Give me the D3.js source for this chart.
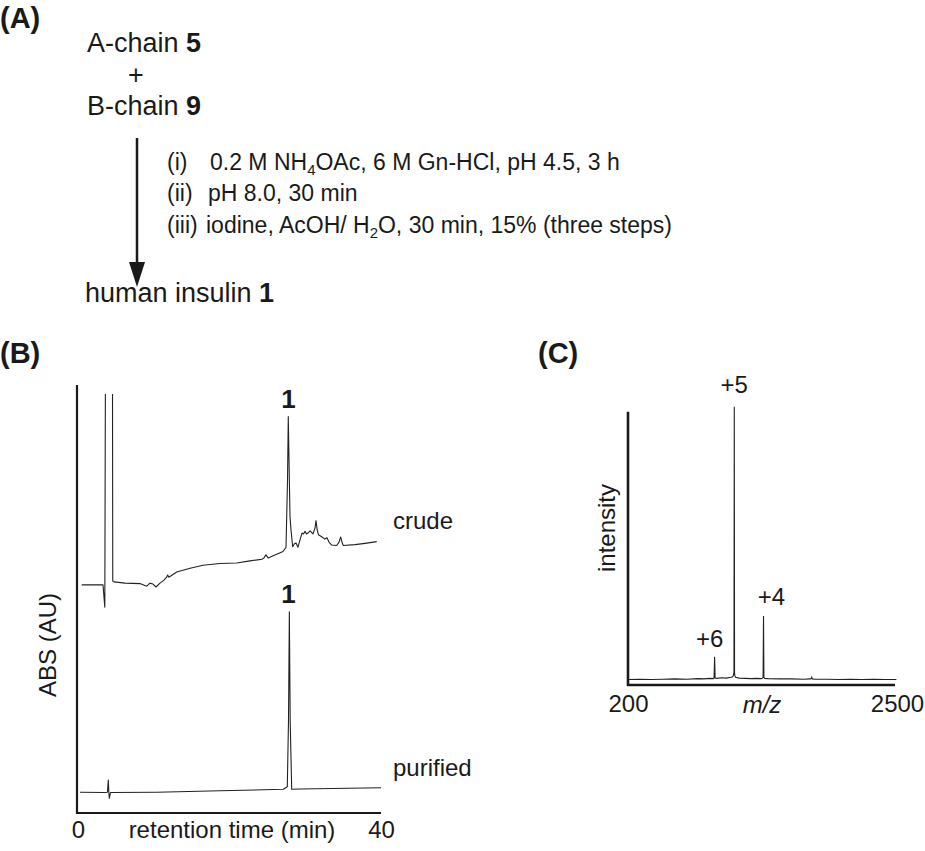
<!DOCTYPE html>
<html><head><meta charset="utf-8">
<script src="https://cdn.jsdelivr.net/npm/d3@7"></script>
<style>
body{margin:0;background:#fff}
text{font-family:"Liberation Sans",Arial,Helvetica,sans-serif;fill:#1a1a1a}
</style></head>
<body><svg id="c" width="925" height="851"></svg>
<script>
// ---------------- DATA ----------------
// Panel A: scheme text
const reactantNames = ["A-chain", "B-chain"];
const reactantIds = ["5", "9"];
const productName = "human insulin";
const productId = "1";
const stepLabels = ["(i)", "(ii)", "(iii)"];
// each step: list of [text, isSubscript]
const stepTexts = [
  [["0.2 M NH", 0], ["4", 1], ["OAc, 6 M Gn-HCl, pH 4.5, 3 h", 0]],
  [["pH 8.0, 30 min", 0]],
  [["iodine, AcOH/ H", 0], ["2", 1], ["O, 30 min, 15% (three steps)", 0]]
];

// Panel B: HPLC traces (retention time, min ; absorbance, arbitrary units)
const crudeTime = [0.49,3.30,3.54,3.66,4.53,4.59,4.75,6.2,8.18,9.07,9.5,9.9,10.3,10.82,11.35,11.7,11.84,12.0,13.03,14.8,16.5,18.75,20.95,22.7,24.3,24.55,24.8,25.1,26.0,27.06,27.46,27.66,27.76,27.9,27.99,28.12,28.34,28.58,28.78,29.04,29.31,29.57,29.77,29.97,30.16,30.36,30.63,31.02,31.29,31.42,31.58,31.75,32.21,32.6,32.87,33.13,33.49,34.15,34.46,34.68,34.85,35.02,36.57,37.89,39.43];
const crudeAbs  = [53.3,53.3,48.1,130,130,54.2,54.0,53.7,53.6,53.0,53.7,53.5,52.8,53.7,54.4,55.1,55.6,55.1,56.3,57.2,57.9,58.3,58.4,58.9,59.3,59.6,60.3,59.6,60.3,61.1,62.1,77.8,92.6,77.8,69.2,66.1,62.2,62.9,63.1,62.1,63.8,65.4,65.2,65.8,65.2,65.4,65.9,65.2,66.6,68.3,66.1,65.0,64.5,64.0,64.3,63.3,62.6,62.5,63.3,64.5,63.3,62.5,62.7,63.0,63.4];
const purifiedTime = [0.26,3.56,3.89,4.0,4.07,4.13,4.29,10.39,18.75,27.1,27.63,27.79,27.9,28.01,28.21,29.31,40.0];
const purifiedAbs  = [4.84,4.79,4.84,7.71,4.9,3.43,4.79,4.84,5.19,5.54,6.14,21.7,47.0,21.7,5.54,5.6,5.9];
const traceNames = ["crude", "purified"];
const hplcPeakLabel = "1";
const hplcPeakTime = 27.8;
const timeTicks = [0, 40];
const timeAxisTitle = "retention time (min)";
const absAxisTitle = "ABS (AU)";

// Panel C: ESI-MS spectrum (m/z ; relative intensity)
const msMz = [205,300,400,500,600,700,800,850,900,930,936,940.5,945,960,1000,1040,1080,1095,1100,1104,1106,1108.7,1111,1114,1120,1150,1200,1250,1300,1340,1350,1355,1358.7,1362,1370,1400,1500,1600,1700,1760,1766,1770.8,1776,1800,1900,2000,2100,2200,2300,2400,2495];
const msIntensity = [0.2,0.3,0.2,0.3,0.4,0.3,0.5,0.4,0.6,0.5,0.9,8.5,0.7,0.6,0.8,0.7,1.0,1.2,1.6,2.2,3.0,100,2.5,1.5,1.0,0.7,0.6,0.5,0.6,0.5,0.7,1.0,23.4,0.9,0.6,0.5,0.4,0.4,0.3,0.4,0.5,1.0,0.4,0.3,0.3,0.2,0.3,0.2,0.3,0.2,0.2];
const chargeLabels = ["+6", "+5", "+4"];
const chargeMz = [940.5, 1108.7, 1358.7];
const chargeIntensity = [8.5, 100, 23.4];
const mzTicks = [200, 2500];
const mzAxisTitle = "m/z";
const intensityAxisTitle = "intensity";
const panelLetters = ["(A)", "(B)", "(C)"];

// ---------------- DRAW ----------------
const svg = d3.select("#c");
const ink = "#1a1a1a";

// panel letters
const letterPos = [[0, 28], [0, 363], [538, 363]];
svg.selectAll("text.panel").data(panelLetters).join("text")
  .attr("class", "panel")
  .attr("x", (d, i) => letterPos[i][0]).attr("y", (d, i) => letterPos[i][1])
  .attr("font-size", 29).attr("font-weight", "bold").text(d => d);

// ---- Panel A ----
const gA = svg.append("g");
function labelWithId(g, name, id, x, y, size) {
  const t = g.append("text").attr("x", x).attr("y", y).attr("font-size", size);
  t.append("tspan").text(name + " ");
  t.append("tspan").attr("font-weight", "bold").text(id);
}
labelWithId(gA, reactantNames[0], reactantIds[0], 87, 52, 27);
gA.append("text").attr("x", 136).attr("y", 84).attr("text-anchor", "middle").attr("font-size", 27).text("+");
labelWithId(gA, reactantNames[1], reactantIds[1], 87, 115, 27);
labelWithId(gA, productName, productId, 85, 302, 27);

// arrow
gA.append("line").attr("x1", 137).attr("x2", 137).attr("y1", 138).attr("y2", 268)
  .attr("stroke", ink).attr("stroke-width", 2.5);
gA.append("path").attr("d", d3.line()([[129, 262], [145, 262], [137, 287]]) + "Z").attr("fill", ink);

const stepY = [170, 201, 233];
const stepTextX = [210, 208, 206];
stepLabels.forEach((lab, i) => {
  gA.append("text").attr("x", 167).attr("y", stepY[i]).attr("font-size", 23).text(lab);
  const t = gA.append("text").attr("x", stepTextX[i]).attr("y", stepY[i]).attr("font-size", 23);
  let prevSub = false;
  stepTexts[i].forEach(([s, sub]) => {
    const ts = t.append("tspan").text(s);
    if (sub) ts.attr("font-size", 15).attr("dy", 5);
    else if (prevSub) ts.attr("dy", -5);
    prevSub = !!sub;
  });
});

// ---- Panel B ----
const xB = d3.scaleLinear().domain([0, 40]).range([78, 381]);
const yB = d3.scaleLinear().domain([0, 100]).range([813, 385]);
const gB = svg.append("g");
gB.append("defs").append("clipPath").attr("id", "clipB")
  .append("rect").attr("x", xB(0)).attr("y", yB(97.9)).attr("width", xB(40) - xB(0) + 5).attr("height", yB(0) - yB(97.9));

const lineB = d3.line().x(d => xB(d[0])).y(d => yB(d[1]));
const traces = [d3.zip(crudeTime, crudeAbs), d3.zip(purifiedTime, purifiedAbs)];
gB.selectAll("path.trace").data(traces).join("path").attr("class", "trace")
  .attr("d", lineB).attr("fill", "none").attr("stroke", "#222").attr("stroke-width", 1.1)
  .attr("stroke-linejoin", "round").attr("clip-path", "url(#clipB)");

// axes lines
gB.append("line").attr("x1", xB(0) - 1).attr("x2", xB(0) - 1).attr("y1", yB(100)).attr("y2", yB(0) + 1)
  .attr("stroke", ink).attr("stroke-width", 2.2);
gB.append("line").attr("x1", xB(0) - 2).attr("x2", xB(40)).attr("y1", yB(0)).attr("y2", yB(0))
  .attr("stroke", ink).attr("stroke-width", 2.2);

const axB = gB.append("g").attr("transform", `translate(0,${yB(0)})`)
  .call(d3.axisBottom(xB).tickValues(timeTicks).tickSize(0).tickPadding(8).tickFormat(d3.format("d")));
axB.select(".domain").remove();
axB.selectAll("text").attr("font-size", 24).attr("fill", ink).attr("font-family", null).attr("dy", "0.71em");
gB.append("text").attr("x", 232).attr("y", 838).attr("text-anchor", "middle").attr("font-size", 24).text(timeAxisTitle);
gB.append("text").attr("transform", "translate(56,645) rotate(-90)").attr("text-anchor", "middle")
  .attr("font-size", 24).text(absAxisTitle);

const peakTops = [92.6, 47.0];
peakTops.forEach(v => {
  gB.append("text").attr("x", xB(hplcPeakTime)).attr("y", yB(v) - 9).attr("text-anchor", "middle")
    .attr("font-size", 26).attr("font-weight", "bold").text(hplcPeakLabel);
});
const traceLabelY = [529, 776];
traceNames.forEach((n, i) => {
  gB.append("text").attr("x", 393).attr("y", traceLabelY[i]).attr("font-size", 24).text(n);
});

// ---- Panel C ----
const xC = d3.scaleLinear().domain([200, 2500]).range([628, 897]);
const yC = d3.scaleLinear().domain([0, 100]).range([680, 406.7]);
const gC = svg.append("g");
gC.append("path").datum(d3.zip(msMz, msIntensity))
  .attr("d", d3.line().x(d => xC(d[0])).y(d => yC(d[1])))
  .attr("fill", "none").attr("stroke", "#222").attr("stroke-width", 1.1);
gC.append("line").attr("x1", xC(200)).attr("x2", xC(200)).attr("y1", 411.7).attr("y2", 686)
  .attr("stroke", ink).attr("stroke-width", 2.6);
gC.append("line").attr("x1", xC(200) - 1).attr("x2", xC(2500) - 2).attr("y1", 685).attr("y2", 685)
  .attr("stroke", ink).attr("stroke-width", 2.6);
const axC = gC.append("g").attr("transform", "translate(0,685)")
  .call(d3.axisBottom(xC).tickValues(mzTicks).tickSize(0).tickPadding(10).tickFormat(d3.format("d")));
axC.select(".domain").remove();
axC.selectAll("text").attr("font-size", 24).attr("fill", ink).attr("font-family", null).attr("dy", "0.71em");
gC.append("text").attr("x", 762).attr("y", 713).attr("text-anchor", "middle").attr("font-size", 24)
  .attr("font-style", "italic").text(mzAxisTitle);
gC.append("text").attr("transform", "translate(615,528) rotate(-90)").attr("text-anchor", "middle")
  .attr("font-size", 24).text(intensityAxisTitle);
const chargeDx = [-5, 0, 8];
const chargeGap = [10, 14, 11];
chargeLabels.forEach((c, i) => {
  gC.append("text").attr("x", xC(chargeMz[i]) + chargeDx[i]).attr("y", yC(chargeIntensity[i]) - chargeGap[i])
    .attr("text-anchor", "middle").attr("font-size", 24).text(c);
});
</script>
</body></html>
